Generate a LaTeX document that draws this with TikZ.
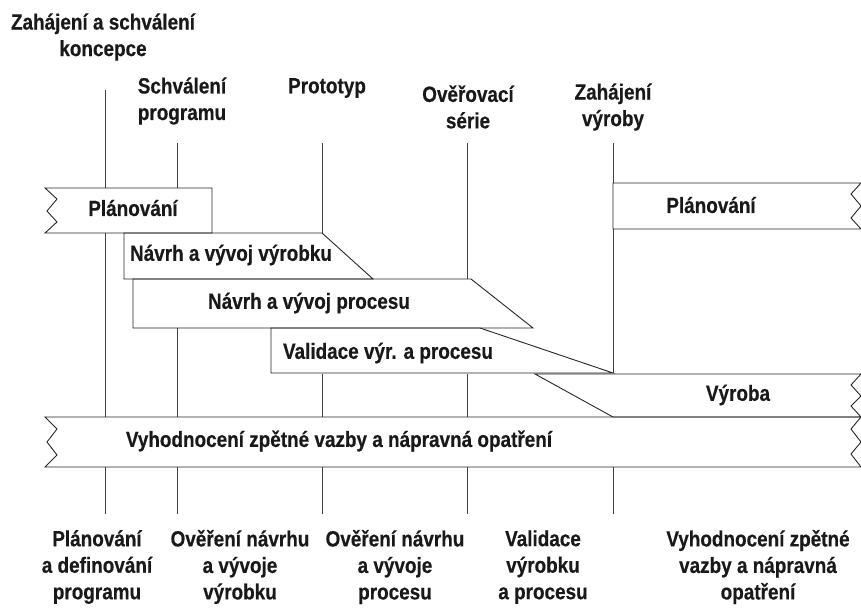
\documentclass[tikz,border=0pt]{standalone}
\usepackage{fontspec}
\setmainfont[FakeStretch=0.86,BoldFeatures={FakeBold=0.4}]{Liberation Sans}
\usepackage{tikz}
\usetikzlibrary{positioning,calc}

\begin{document}
\begin{tikzpicture}[x=1pt,y=-1pt,
  lbl/.style={font=\bfseries\fontsize{22}{26.5}\selectfont, align=center, inner sep=0pt, text=black!90},
  band/.style={draw=black!85, line width=0.9pt},
  tl/.style={draw=black!75, line width=0.7pt}]
\useasboundingbox (0,0) rectangle (861,608);

% milestones on top
\node[lbl] (konc) at (103,37) {Zahájení a schválení\\koncepce};
\node[lbl] (schv) at (182,101) {Schválení\\programu};
\node[lbl] (prot) at (327,88) {Prototyp};
\node[lbl] (over) at (468,107) {Ověřovací\\série};
\node[lbl] (zahv) at (613,107) {Zahájení\\výroby};

% milestone lines
\draw[tl] (105,90) -- (105,188);
\draw[tl] (105,233) -- (105,417);
\draw[tl] (177,143) -- (177,188);
\draw[tl] (177,328) -- (177,417);
\draw[tl] (322,143) -- (322,233);
\draw[tl] (322,374) -- (322,417);
\draw[tl] (467,143) -- (467,279);
\draw[tl] (467,374) -- (467,417);
\draw[tl] (613,143) -- (613,183);
\draw[tl] (613,229) -- (613,373);
\foreach \x in {105,177,322,467,613}
  \draw[tl] (\x,467) -- (\x,514);

% bands
\draw[band] (45,188) -- (212,188) -- (212,233) -- (45,233)
  -- (57,222) -- (47,211) -- (57,199) -- cycle;
\draw[band] (124,233) -- (322,233) -- (373,279) -- (124,279) -- cycle;
\draw[band] (133,279) -- (471,279) -- (533,328) -- (133,328) -- cycle;
\draw[band] (271,328) -- (480,328) -- (613,373) -- (271,373) -- cycle;
\draw[band] (535,374) -- (861,374) -- (851,385) -- (861,396) -- (851,406) -- (861,417)
  -- (613,417) -- cycle;
\draw[band] (613,183) -- (861,183) -- (851,194) -- (861,206) -- (851,218) -- (861,229)
  -- (613,229) -- cycle;
\draw[band] (45,417) -- (861,417) -- (851,429) -- (861,442) -- (851,454) -- (861,467)
  -- (45,467) -- (57,455) -- (47,442) -- (57,429) -- cycle;

\node[lbl] (plan1) at (133,208) {Plánování};
\node[lbl] (nvyr) at (231,255) {Návrh a vývoj výrobku};
\node[lbl] (nproc) at (309,303) {Návrh a vývoj procesu};
\node[lbl] (valid) at (388,353) {Validace výr. a procesu};
\node[lbl] (vyr) at (738,395) {Výroba};
\node[lbl] (plan2) at (711,205) {Plánování};
\node[lbl] (vyhod) at (339,441) {Vyhodnocení zpětné vazby a nápravná opatření};

% phases below
\node[lbl] (f1) at (97,567) {Plánování\\a definování\\programu};
\node[lbl] (f2) at (240,567) {Ověření návrhu\\a vývoje\\výrobku};
\node[lbl] (f3) at (395,567) {Ověření návrhu\\a vývoje\\procesu};
\node[lbl] (f4) at (543,567) {Validace\\výrobku\\a procesu};
\node[lbl] (f5) at (758,567) {Vyhodnocení zpětné\\vazby a nápravná\\opatření};
\end{tikzpicture}
\end{document}
